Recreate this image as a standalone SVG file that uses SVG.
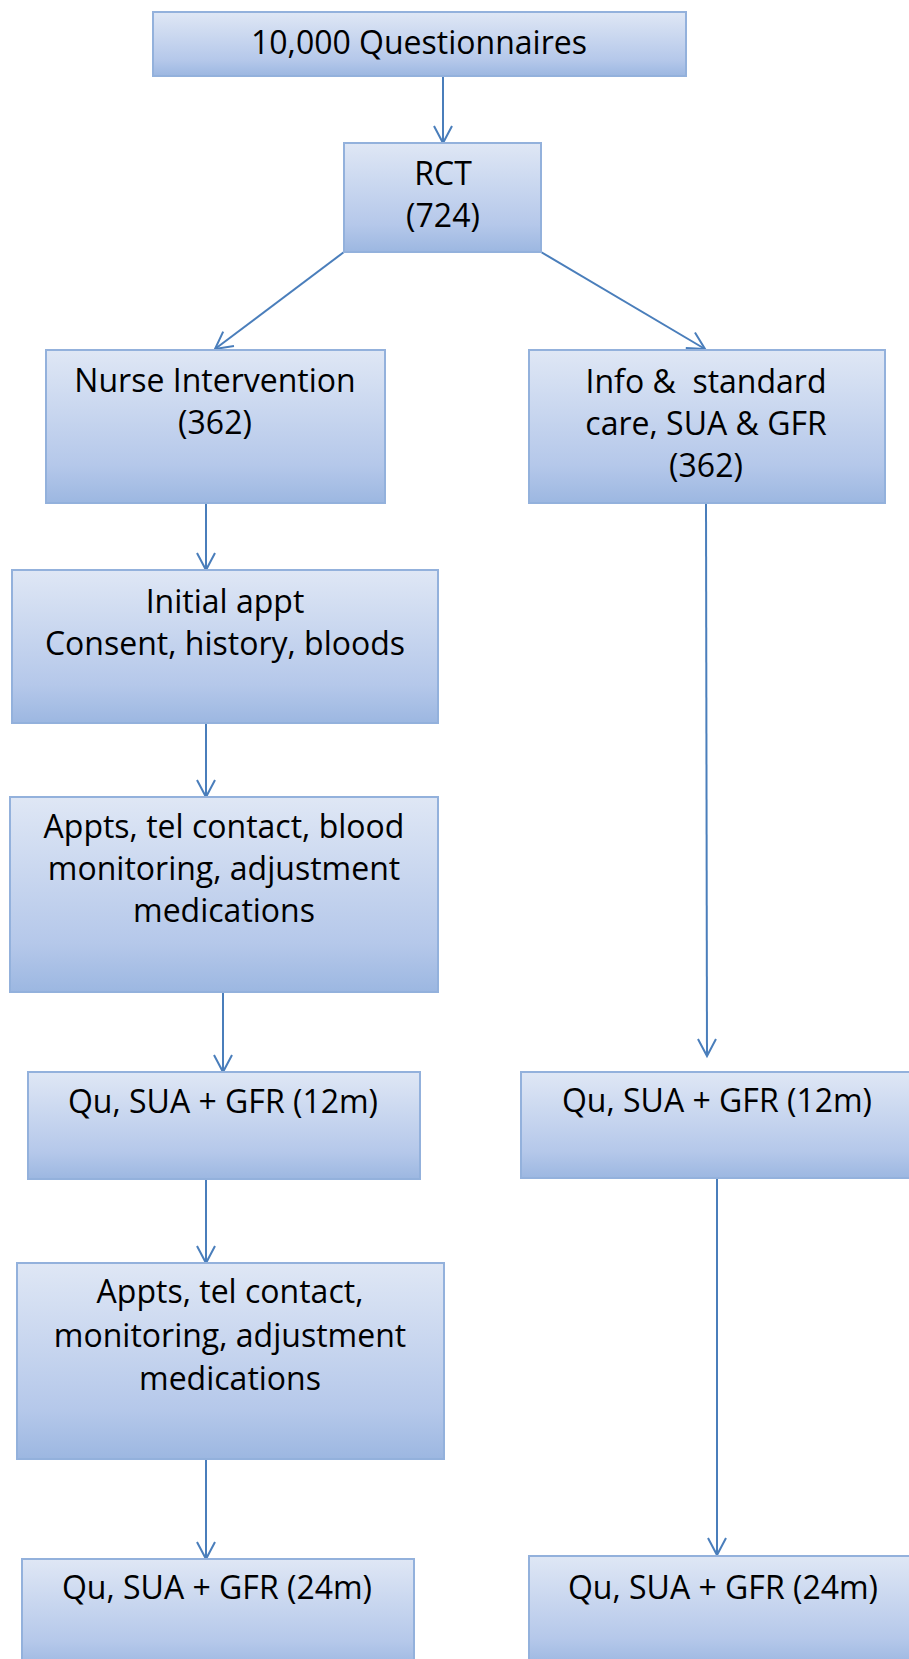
<svg xmlns="http://www.w3.org/2000/svg" width="909" height="1659" viewBox="0 0 909 1659">
<style>
.box{fill:url(#g);stroke:#93b1dc;stroke-width:2}
.t{font-family:"Open Sans","Liberation Sans",sans-serif;font-size:32px;fill:#000;text-anchor:middle}
.c{stroke:#4a7ebb;stroke-width:2;fill:none;marker-end:url(#a)}
</style>
<defs>
<linearGradient id="g" x1="0" y1="0" x2="0" y2="1">
<stop offset="0" stop-color="#dfe7f5"/>
<stop offset="0.75" stop-color="#b5c8ea"/>
<stop offset="1" stop-color="#9cb7e1"/>
</linearGradient>
<marker id="a" markerUnits="userSpaceOnUse" markerWidth="22" markerHeight="22" refX="18" refY="10" orient="auto">
<path d="M1,1 L18,10 L1,19" fill="none" stroke="#4a7ebb" stroke-width="2"/>
</marker>
</defs>
<rect width="909" height="1659" fill="#fff"/>
<g id="connectors">
<line class="c" x1="443" y1="76" x2="443" y2="143"/>
<line class="c" x1="344" y1="252" x2="215" y2="349"/>
<line class="c" x1="541" y1="252" x2="705" y2="349"/>
<line class="c" x1="206" y1="503" x2="206" y2="570"/>
<line class="c" x1="206" y1="723" x2="206" y2="797"/>
<line class="c" x1="223" y1="992" x2="223" y2="1072"/>
<line class="c" x1="206" y1="1179" x2="206" y2="1263"/>
<line class="c" x1="206" y1="1459" x2="206" y2="1559"/>
<line class="c" x1="706" y1="503" x2="707" y2="1056"/>
<line class="c" x1="717" y1="1178" x2="717" y2="1555"/>
</g>
<g id="n1"><rect class="box" x="153" y="12" width="533" height="64"/><text class="t" x="419" y="54">10,000 Questionnaires</text></g>
<g id="n2"><rect class="box" x="344" y="143" width="197" height="109"/><text class="t" x="443" y="185">RCT</text><text class="t" x="443" y="227">(724)</text></g>
<g id="n3"><rect class="box" x="46" y="350" width="339" height="153"/><text class="t" x="215" y="392">Nurse Intervention</text><text class="t" x="215" y="434">(362)</text></g>
<g id="n4"><rect class="box" x="529" y="350" width="356" height="153"/><text class="t" x="706" y="393" xml:space="preserve">Info &amp;  standard</text><text class="t" x="706" y="435">care, SUA &amp; GFR</text><text class="t" x="706" y="477">(362)</text></g>
<g id="n5"><rect class="box" x="12" y="570" width="426" height="153"/><text class="t" x="225" y="613">Initial appt</text><text class="t" x="225" y="655">Consent, history, bloods</text></g>
<g id="n6"><rect class="box" x="10" y="797" width="428" height="195"/><text class="t" x="224" y="838">Appts, tel contact, blood</text><text class="t" x="224" y="880">monitoring, adjustment</text><text class="t" x="224" y="922">medications</text></g>
<g id="n7"><rect class="box" x="28" y="1072" width="392" height="107"/><text class="t" x="223" y="1113">Qu, SUA + GFR (12m)</text></g>
<g id="n8"><rect class="box" x="17" y="1263" width="427" height="196"/><text class="t" x="230" y="1303">Appts, tel contact,</text><text class="t" x="230" y="1347">monitoring, adjustment</text><text class="t" x="230" y="1390">medications</text></g>
<g id="n9"><rect class="box" x="22" y="1559" width="392" height="110"/><text class="t" x="217" y="1599">Qu, SUA + GFR (24m)</text></g>
<g id="n10"><rect class="box" x="521" y="1072" width="392" height="106"/><text class="t" x="717" y="1112">Qu, SUA + GFR (12m)</text></g>
<g id="n11"><rect class="box" x="529" y="1556" width="390" height="110"/><text class="t" x="723" y="1599">Qu, SUA + GFR (24m)</text></g>
</svg>
